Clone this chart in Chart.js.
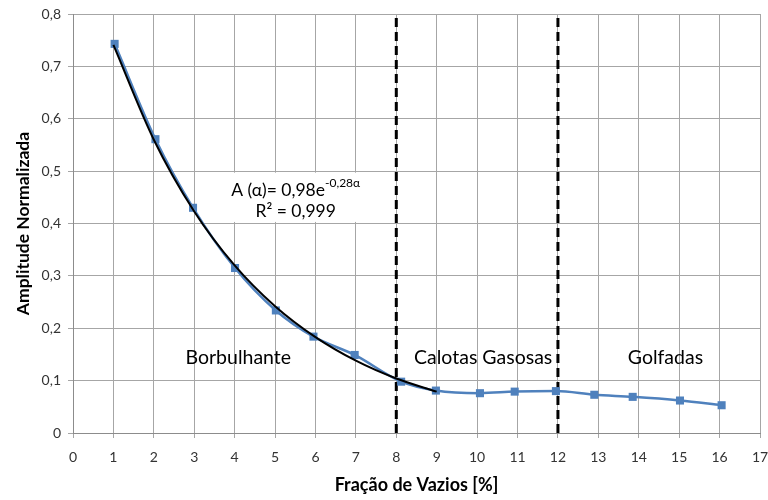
<!DOCTYPE html>
<html>
<head>
<meta charset="utf-8">
<script src="https://cdn.jsdelivr.net/npm/chart.js@4/dist/chart.umd.min.js"></script>
<style>
  html, body { margin: 0; padding: 0; background: #fff; }
  #wrap { width: 768px; height: 500px; position: relative; }
</style>
</head>
<body>
<div id="wrap"><canvas id="c" width="768" height="500"></canvas></div>
<script>
// Void fraction [%] and normalised amplitude of the measured points
const voidFraction = [1.03, 2.04, 2.97, 4.01, 5.02, 5.95, 6.97, 8.12, 8.98, 10.07, 10.93, 11.95, 12.9, 13.85, 15.02, 16.05];
const amplitude = [0.743, 0.561, 0.430, 0.315, 0.234, 0.184, 0.149, 0.098, 0.081, 0.076, 0.079, 0.080, 0.073, 0.069, 0.062, 0.053];

// Exponential fit A(α) = 0,98·e^(-0,28α), sampled at whole void fractions
const fitX = [1, 2, 3, 4, 5, 6, 7, 8, 9];
const fitY = [0.741, 0.560, 0.423, 0.320, 0.242, 0.183, 0.138, 0.104, 0.079];

// Flow-regime boundaries and labels
const boundaries = [8, 12];
const regimes = [
  { text: 'Borbulhante', x: 4.09, y: 0.143 },
  { text: 'Calotas Gasosas', x: 10.15, y: 0.143 },
  { text: 'Golfadas', x: 14.66, y: 0.143 }
];

const xTicks = [0, 1, 2, 3, 4, 5, 6, 7, 8, 9, 10, 11, 12, 13, 14, 15, 16, 17];
const yTicks = [0, 0.1, 0.2, 0.3, 0.4, 0.5, 0.6, 0.7, 0.8];

const FONT = 'Lato, "Open Sans", sans-serif';

const boundarySets = boundaries.map(b => ({
  data: [{ x: b, y: 0 }, { x: b, y: 0.8 }],
  borderColor: '#000',
  borderWidth: 3,
  borderDash: [9, 5],
  pointRadius: 0,
  showLine: true,
  order: 3
}));

// Labels for regimes and the fit equation box
const annotations = {
  id: 'annotations',
  beforeDatasetsDraw(chart) {
    const { ctx, scales: { x, y } } = chart;
    // equation box
    const bx = x.getPixelForValue(3.78), by = y.getPixelForValue(0.497);
    const bw = x.getPixelForValue(7.95) - bx, bh = y.getPixelForValue(0.403) - by;
    ctx.save();
    ctx.fillStyle = '#fff';
    ctx.fillRect(bx, by, bw, bh);
    ctx.restore();
  },
  afterDatasetsDraw(chart) {
    const { ctx, scales: { x, y } } = chart;
    ctx.save();
    ctx.fillStyle = '#000';
    ctx.textBaseline = 'middle';
    ctx.textAlign = 'center';
    ctx.font = '19.5px ' + FONT;
    regimes.forEach(r => ctx.fillText(r.text, x.getPixelForValue(r.x), y.getPixelForValue(r.y)));

    // fit equation with superscript exponent
    const cx = x.getPixelForValue(5.51);
    const ly1 = y.getPixelForValue(0.464);
    const ly2 = y.getPixelForValue(0.423);
    const main = 'A (α)= 0,98e';
    const sup = '-0,28α';
    ctx.font = '17.5px ' + FONT;
    const wMain = ctx.measureText(main).width;
    ctx.font = '12px ' + FONT;
    const wSup = ctx.measureText(sup).width;
    const start = cx - (wMain + wSup) / 2;
    ctx.textAlign = 'left';
    ctx.font = '17.5px ' + FONT;
    ctx.fillText(main, start, ly1);
    ctx.font = '12px ' + FONT;
    ctx.fillText(sup, start + wMain, ly1 - 7);
    ctx.textAlign = 'center';
    ctx.font = '17.5px ' + FONT;
    ctx.fillText('R² = 0,999', cx, ly2);
    ctx.restore();
  }
};

new Chart(document.getElementById('c'), {
  type: 'scatter',
  data: {
    datasets: [
      {
        data: voidFraction.map((v, i) => ({ x: v, y: amplitude[i] })),
        showLine: true,
        borderColor: '#4F81BD',
        backgroundColor: '#4F81BD',
        borderWidth: 2.5,
        pointStyle: 'rect',
        pointRadius: 5.7,
        pointBorderWidth: 0,
        cubicInterpolationMode: 'monotone',
        order: 2
      },
      {
        data: fitX.map((v, i) => ({ x: v, y: fitY[i] })),
        showLine: true,
        borderColor: '#000',
        borderWidth: 2,
        pointRadius: 0,
        cubicInterpolationMode: 'monotone',
        order: 1
      },
      ...boundarySets
    ]
  },
  options: {
    responsive: false,
    animation: false,
    events: [],
    layout: { padding: { top: 14, right: 8, left: 0, bottom: 0 } },
    plugins: { legend: { display: false }, tooltip: { enabled: false } },
    scales: {
      x: {
        type: 'linear', min: 0, max: 17,
        afterBuildTicks: s => { s.ticks = xTicks.map(v => ({ value: v })); },
        afterFit: s => { s.height = 67; s.paddingRight = 0; s.paddingLeft = 0; },
        grid: { color: '#A6A6A6', lineWidth: 1, tickLength: 5, drawTicks: true },
        border: { color: '#8C8C8C', width: 1 },
        ticks: { color: '#333', font: { family: FONT, size: 14 }, padding: 11, maxRotation: 0 },
        title: { display: true, text: 'Fração de Vazios [%]', color: '#000',
                 font: { family: FONT, size: 18, weight: 'bold' }, padding: { top: 0, bottom: 4 } }
      },
      y: {
        type: 'linear', min: 0, max: 0.8,
        afterBuildTicks: s => { s.ticks = yTicks.map(v => ({ value: v })); },
        afterFit: s => { s.width = 73; s.paddingTop = 0; s.paddingBottom = 0; },
        grid: { color: '#A6A6A6', lineWidth: 1, tickLength: 5 },
        border: { color: '#8C8C8C', width: 1 },
        ticks: { color: '#333', font: { family: FONT, size: 14 }, padding: 7,
                 callback: v => String(Math.round(v * 10) / 10).replace('.', ',') },
        title: { display: true, text: 'Amplitude Normalizada', color: '#000',
                 font: { family: FONT, size: 17.5, weight: 'bold' }, padding: { top: 13, bottom: 0 } }
      }
    }
  },
  plugins: [annotations]
});
</script>
</body>
</html>
